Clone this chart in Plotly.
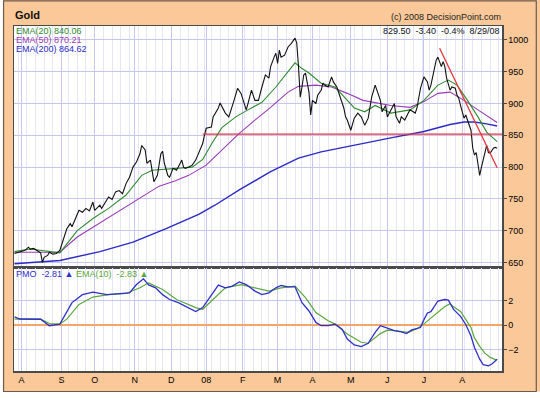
import numpy as np
import pandas as pd
import plotly.graph_objects as go

# ---------------- data ----------------
title_text = "Gold"
copyright_text = "(c) 2008 DecisionPoint.com"
last_close = "829.50"
last_change = "-3.40"
last_pct = "-0.4%"
last_date = "8/29/08"
ema20_last = "840.06"
ema50_last = "870.21"
ema200_last = "864.62"
pmo_last = "-2.81"
pmo_ema_last = "-2.83"

# NYSE holidays inside the window (trading calendar)
holidays = ["2007-09-03", "2007-11-22", "2007-12-25", "2008-01-01", "2008-01-21",
            "2008-02-18", "2008-03-21", "2008-05-26", "2008-07-04"]
calendar_start = "2007-07-20"
calendar_end = "2008-09-05"
day_zero = "2007-08-01"          # trading day number 0
month_labels = ["A", "S", "O", "N", "D", "08", "F", "M", "A", "M", "J", "J", "A"]
price_ticks = [650, 700, 750, 800, 850, 900, 950, 1000]
pmo_ticks = [-2, 0, 2]

# (trading day number, value)
price_points = [
    (-4, 664), (-1, 666), (2, 669), (4, 674), (5, 671), (7, 672), (9, 669), (11, 665),
    (12, 650), (13, 658), (15, 661), (16, 666), (18, 663), (20, 664), (22, 669), (24, 687),
    (26, 703), (28, 711), (29, 706), (31, 719), (32, 727), (33, 732), (35, 729), (37, 735),
    (39, 731), (41, 745), (42, 732), (45, 740), (46, 735), (49, 748), (50, 753), (52, 749),
    (54, 761), (56, 763), (58, 758), (60, 774), (62, 784), (64, 800), (66, 808), (68, 821),
    (69, 834), (71, 827), (72, 806), (74, 811), (75, 790), (76, 777), (78, 787), (80, 821),
    (81, 825), (82, 806), (84, 787), (85, 784), (87, 798), (89, 795), (90, 800), (92, 811),
    (93, 800), (94, 798), (96, 800), (98, 803), (100, 811), (102, 824), (104, 837), (105, 850),
    (106, 861), (109, 863), (110, 879), (113, 893), (114, 901), (117, 885), (119, 879),
    (122, 905), (124, 924), (126, 916), (129, 890), (130, 900), (132, 921), (134, 905),
    (136, 905), (138, 926), (140, 945), (142, 940), (143, 958), (145, 973), (146, 979),
    (147, 963), (148, 984), (149, 973), (151, 976), (153, 989), (155, 995), (157, 1003),
    (158, 995), (159, 958), (160, 910), (161, 926), (162, 945), (163, 948), (164, 932),
    (165, 918), (166, 882), (167, 905), (169, 900), (170, 913), (172, 921), (173, 932),
    (174, 929), (176, 926), (178, 942), (179, 934), (181, 926), (183, 908), (185, 893),
    (186, 879), (187, 874), (189, 858), (190, 869), (191, 877), (193, 885), (195, 879),
    (197, 866), (199, 877), (201, 910), (203, 929), (204, 921), (206, 905), (207, 887),
    (209, 897), (210, 879), (212, 890), (214, 900), (215, 879), (217, 869), (218, 879),
    (220, 874), (222, 885), (223, 890), (226, 885), (227, 893), (229, 924), (230, 932),
    (231, 942), (233, 934), (234, 921), (235, 929), (237, 953), (238, 968), (239, 973),
    (241, 958), (242, 966), (243, 958), (244, 940), (246, 921), (247, 926), (249, 924),
    (250, 913), (251, 908), (252, 897), (254, 877), (255, 882), (258, 858), (259, 830),
    (260, 819), (261, 823), (262, 806), (263, 787), (264, 800), (265, 811), (266, 823),
    (267, 834), (268, 823), (269, 822), (271, 830), (272, 831), (273, 829.5),
]
ema20_points = [
    (-4, 667), (5, 671), (22, 665), (32, 700), (41, 719), (50, 735), (60, 756), (69, 787),
    (75, 795), (89, 798), (98, 800), (104, 812), (109, 836), (115, 862), (123, 879),
    (130, 890), (138, 902), (146, 926), (153, 950), (157, 964), (161, 955), (165, 948),
    (172, 932), (180, 926), (186, 908), (191, 893), (197, 887), (203, 897), (212, 885),
    (223, 890), (231, 905), (239, 929), (245, 937), (250, 929), (256, 905), (262, 879),
    (267, 855), (273, 840.06),
]
ema50_points = [
    (-4, 666), (22, 666), (32, 690), (50, 721), (69, 754), (79, 770), (88, 778), (96, 787),
    (106, 803), (115, 827), (125, 853), (134, 874), (143, 894), (153, 918), (159, 927),
    (169, 929), (178, 926), (187, 916), (196, 905), (212, 897), (223, 894), (231, 903),
    (239, 916), (246, 918), (254, 905), (262, 890), (269, 877), (273, 870.21),
]
ema200_points = [
    (-4, 648), (22, 653), (45, 667), (64, 682), (83, 703), (102, 726), (111, 740),
    (125, 764), (143, 793), (159, 814), (172, 824), (186, 832), (199, 839), (212, 846),
    (231, 856), (246, 867), (254, 871), (260, 871), (267, 868), (273, 864.62),
]
pmo_points = [
    (-4, 0.68), (-1, 0.5), (11, 0.48), (15, 0.0), (16, -0.05), (22, 0.08), (26, 1.05),
    (29, 1.85), (35, 2.5), (41, 2.7), (49, 2.5), (56, 2.6), (62, 2.65), (66, 3.33),
    (70, 3.8), (73, 3.3), (77, 3.06), (81, 2.5), (85, 2.1), (90, 1.85), (96, 1.44),
    (100, 1.11), (104, 1.44), (108, 2.25), (113, 3.28), (117, 3.06), (121, 3.2),
    (125, 3.55), (129, 3.33), (134, 2.79), (138, 2.5), (142, 2.65), (146, 3.06),
    (149, 3.25), (153, 3.14), (157, 3.14), (161, 1.84), (165, 1.16), (169, 0.22),
    (172, -0.05), (176, -0.05), (180, 0.08), (184, -0.33), (187, -1.14), (191, -1.63),
    (195, -1.76), (199, -1.49), (203, -0.6), (206, -0.05), (210, -0.25), (214, -0.45),
    (218, -0.55), (221, -0.7), (224, -0.4), (227, -0.3), (229, -0.2), (231, 0.45),
    (233, 1.0), (235, 1.1), (237, 1.6), (239, 1.98), (243, 2.1), (245, 2.05), (248, 1.29),
    (252, 0.72), (255, 0.05), (258, -0.9), (260, -1.84), (263, -2.8), (265, -3.25),
    (268, -3.35), (270, -3.2), (273, -2.81),
]
pmo_ema_points = [
    (-4, 0.49), (11, 0.49), (16, 0.13), (22, 0.08), (26, 0.49), (33, 1.7), (41, 2.3),
    (50, 2.5), (60, 2.6), (68, 3.06), (73, 3.47), (81, 2.93), (89, 2.1), (100, 1.44),
    (104, 1.3), (109, 1.98), (117, 3.06), (126, 3.33), (134, 3.06), (142, 2.79),
    (149, 3.06), (157, 3.2), (163, 2.25), (169, 1.03), (176, 0.35), (180, 0.08),
    (187, -0.73), (195, -1.41), (199, -1.49), (203, -1.0), (206, -0.7), (210, -0.41),
    (214, -0.45), (222, -0.6), (227, -0.3), (231, 0.1), (235, 0.58), (239, 1.0),
    (243, 1.53), (246, 1.75), (248, 1.5), (252, 1.12), (255, 0.5), (258, -0.2),
    (260, -1.05), (263, -1.75), (266, -2.3), (269, -2.65), (272, -2.83), (273, -2.83),
]
support_days = [104, 276]
support_values = [852, 852]
trend_days = [240, 273]
trend_values = [987, 799]

# ---------------- trading calendar -> grid positions ----------------
cal = pd.bdate_range(calendar_start, calendar_end, freq="C", holidays=holidays)
day_num = pd.Series(np.arange(len(cal)) - cal.get_loc(pd.Timestamp(day_zero)), index=cal)
month_first = day_num.groupby([cal.year, cal.month]).first()
month_first = month_first[(month_first >= 0) & (month_first <= 273)].tolist()
week_first = day_num.groupby(cal.to_period("W")).first().tolist()


def split(points):
    d, v = zip(*points)
    return list(d), list(v)


FONT = "Liberation Sans, Arial, sans-serif"
PEACH = "#FBC999"
GRID = "#c6c6ee"
GRID_MINOR = "#e6e6f8"
FRAME = "#4a4a4a"

fig = go.Figure()

d, v = split(ema200_points)
fig.add_trace(go.Scatter(x=d, y=v, mode="lines", line=dict(color="#2b2bc4", width=1.4),
                         xaxis="x", yaxis="y", showlegend=False))
d, v = split(ema50_points)
fig.add_trace(go.Scatter(x=d, y=v, mode="lines", line=dict(color="#9a3cb4", width=1.1),
                         xaxis="x", yaxis="y", showlegend=False))
d, v = split(ema20_points)
fig.add_trace(go.Scatter(x=d, y=v, mode="lines", line=dict(color="#2f8a2f", width=1.1),
                         xaxis="x", yaxis="y", showlegend=False))
d, v = split(price_points)
fig.add_trace(go.Scatter(x=d, y=v, mode="lines", line=dict(color="#111111", width=1.1),
                         xaxis="x", yaxis="y", showlegend=False))
fig.add_trace(go.Scatter(x=support_days, y=support_values, mode="lines",
                         line=dict(color="#e8343a", width=1.3), xaxis="x", yaxis="y",
                         showlegend=False))
fig.add_trace(go.Scatter(x=trend_days, y=trend_values, mode="lines",
                         line=dict(color="#e8343a", width=1.3), xaxis="x", yaxis="y",
                         showlegend=False))

d, v = split(pmo_ema_points)
fig.add_trace(go.Scatter(x=d, y=v, mode="lines", line=dict(color="#5aa83a", width=1.2),
                         xaxis="x2", yaxis="y2", showlegend=False))
d, v = split(pmo_points)
fig.add_trace(go.Scatter(x=d, y=v, mode="lines", line=dict(color="#3030c8", width=1.3),
                         xaxis="x2", yaxis="y2", showlegend=False))

xcommon = dict(range=[-4.3, 275.8], tickvals=month_first, showgrid=True, gridcolor=GRID,
               gridwidth=1, minor=dict(tickvals=week_first, showgrid=True,
                                       gridcolor=GRID_MINOR, gridwidth=1),
               showline=True, mirror=True, linecolor=FRAME, linewidth=1.5,
               zeroline=False, ticks="")
ycommon = dict(side="right", showgrid=True, gridcolor=GRID, gridwidth=1,
               showline=True, mirror=True, linecolor=FRAME, linewidth=1.5,
               ticks="outside", ticklen=3, tickcolor=FRAME,
               tickfont=dict(family=FONT, size=9, color="#000"))

fig.update_layout(
    width=540, height=398,
    margin=dict(l=13, r=36, t=26, b=27),
    paper_bgcolor=PEACH, plot_bgcolor="white",
    font=dict(family=FONT, size=9, color="#000"),
    hovermode=False,
    xaxis=dict(**xcommon, anchor="y", showticklabels=False),
    xaxis2=dict(**xcommon, anchor="y2", matches="x", showticklabels=True,
                ticktext=month_labels,
                tickfont=dict(family=FONT, size=9, color="#000")),
    yaxis=dict(**ycommon, domain=[0.3, 1.0], anchor="x", range=[642, 1022],
               tickvals=price_ticks, zeroline=False),
    yaxis2=dict(**ycommon, domain=[0.0, 0.3], anchor="x2", range=[-3.77, 4.73],
                tickvals=pmo_ticks, zeroline=True, zerolinecolor="#f2a66a",
                zerolinewidth=1.5),
)

# outer frame and white margin outside it
W, L, PW = 540, 13, 491
H, B, PH = 398, 27, 345


def px(x):
    return (x - L) / PW


def py(y):
    return (H - B - y) / PH


fig.add_shape(type="rect", xref="paper", yref="paper", x0=px(-5), x1=px(545),
              y0=py(391.5), y1=py(405), fillcolor="white", line=dict(width=0), layer="below")
fig.add_shape(type="rect", xref="paper", yref="paper", x0=px(-5), x1=px(2),
              y0=py(405), y1=py(-5), fillcolor="white", line=dict(width=0), layer="below")
fig.add_shape(type="rect", xref="paper", yref="paper", x0=px(2.5), x1=px(538.5),
              y0=py(391.5), y1=py(0.8), line=dict(color="#6e5c4a", width=1.2),
              fillcolor="rgba(0,0,0,0)", layer="below")

nb = "\u00a0"
ann = [
    dict(text=f"<b>{title_text}</b>", x=px(13), y=py(15), xanchor="left",
         font=dict(size=11, color="#111")),
    dict(text=copyright_text, x=px(504), y=py(16.5), xanchor="right",
         font=dict(size=9, color="#222")),
    dict(text=f"{last_close}{nb*2}{last_change}{nb*2}{last_pct}{nb*2}{last_date}",
         x=px(503), y=py(31), xanchor="right", font=dict(size=9, color="#111")),
    dict(text=f"EMA(20) {ema20_last}", x=px(14), y=py(31), xanchor="left",
         font=dict(size=9, color="#2f8a2f")),
    dict(text=f"EMA(50) {ema50_last}", x=px(14), y=py(40), xanchor="left",
         font=dict(size=9, color="#9a3cb4")),
    dict(text=f"EMA(200) {ema200_last}", x=px(14), y=py(49), xanchor="left",
         font=dict(size=9, color="#2b2bc4")),
    dict(text=(f"<span style='color:#3030c8'>PMO{nb}{nb}{pmo_last} ▲</span>{nb}"
               f"<span style='color:#5aa83a'>EMA(10){nb}{nb}{pmo_ema_last} ▲</span>"),
         x=px(14), y=py(273.5), xanchor="left", font=dict(size=9)),
]
for a in ann:
    a.update(xref="paper", yref="paper", yanchor="middle", showarrow=False, borderpad=0)
    a["font"].setdefault("family", FONT)
    fig.add_annotation(**a)

fig.write_html("out.html", config={"displayModeBar": False, "staticPlot": True},
               post_script="document.body.style.margin='0px';document.body.style.padding='0px';")
